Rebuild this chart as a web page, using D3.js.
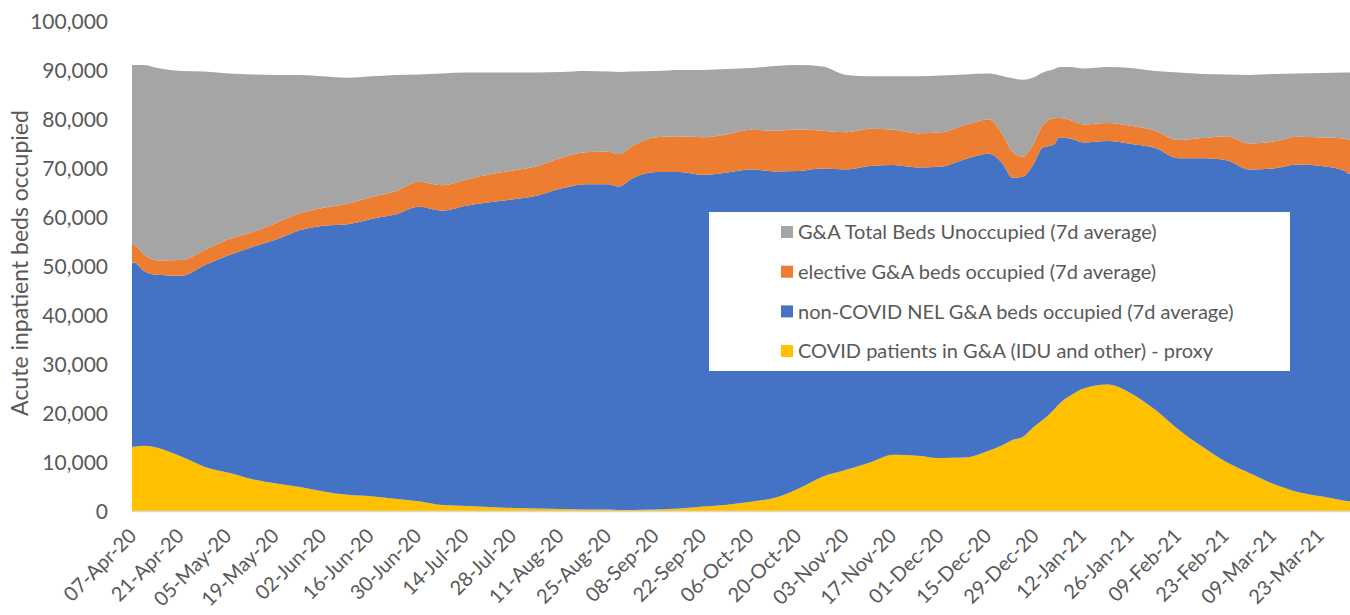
<!DOCTYPE html>
<html>
<head>
<meta charset="utf-8">
<script src="https://cdn.jsdelivr.net/npm/d3@7"></script>
<style>
  body { margin: 0; background: #fff; }
  text { font-family: Lato, "Open Sans", sans-serif; fill: #595959; }
</style>
</head>
<body>
<svg id="chart" width="1350" height="615"></svg>
<script>
// sample dates (7d averages)
const dates = [
    "2020-04-07", "2020-04-10", "2020-04-14", "2020-04-21", "2020-04-28", "2020-05-05", "2020-05-12", "2020-05-19", "2020-05-26", "2020-06-02",
    "2020-06-09", "2020-06-16", "2020-06-23", "2020-06-30", "2020-07-07", "2020-07-14", "2020-07-21", "2020-07-28", "2020-08-04", "2020-08-11",
    "2020-08-18", "2020-08-25", "2020-08-28", "2020-09-01", "2020-09-08", "2020-09-15", "2020-09-22", "2020-09-29", "2020-10-06", "2020-10-13",
    "2020-10-20", "2020-10-27", "2020-11-03", "2020-11-10", "2020-11-17", "2020-11-24", "2020-12-01", "2020-12-08", "2020-12-15", "2020-12-19",
    "2020-12-22", "2020-12-25", "2020-12-28", "2020-12-31", "2021-01-03", "2021-01-05", "2021-01-08", "2021-01-12", "2021-01-19", "2021-01-26",
    "2021-02-02", "2021-02-09", "2021-02-16", "2021-02-23", "2021-03-02", "2021-03-09", "2021-03-16", "2021-03-23", "2021-03-30", "2021-03-31"
];

const covid = [
    13100, 13300, 12900, 11100, 9000, 7800, 6500, 5600, 4900, 4000,
    3300, 3000, 2500, 2000, 1200, 1000, 800, 600, 500, 400,
    300, 300, 200, 200, 300, 500, 900, 1300, 1900, 2700,
    4600, 7000, 8400, 9900, 11500, 11300, 10800, 10900, 12300, 13400,
    14500, 15100, 17000, 18600, 20500, 22000, 23500, 25000, 25800, 24000,
    20700, 16600, 13100, 10000, 7700, 5500, 3900, 3000, 2100, 2000
];

const nonCovid = [
    37600, 35700, 35300, 36900, 41200, 44400, 47400, 49800, 52400, 54200,
    55200, 56600, 58000, 60100, 60100, 61300, 62200, 63000, 63900, 65400,
    66400, 66400, 66000, 67700, 68900, 68700, 67700, 67800, 67800, 66600,
    64800, 62900, 61300, 60500, 59100, 58800, 59500, 60900, 60600, 57600,
    53500, 53100, 53500, 55600, 54200, 54300, 52500, 50200, 49700, 50900,
    53400, 55400, 58900, 61600, 62000, 64400, 66800, 67400, 67300, 66900
];

const elective = [
    3600, 3400, 2900, 3200, 3100, 3300, 3000, 3400, 3500, 3700,
    4200, 4500, 4700, 5100, 5200, 5300, 5700, 5900, 6000, 6300,
    6500, 6600, 6600, 6600, 7100, 7300, 7700, 7800, 8100, 8300,
    8500, 7700, 7600, 7600, 7200, 7000, 7000, 7000, 7000, 6000,
    5300, 4100, 4200, 4600, 5400, 3900, 3800, 3700, 3700, 3700,
    3500, 3700, 4100, 4900, 5300, 5500, 5700, 5800, 6600, 6900
];

const unoccupied = [
    36700, 38600, 39300, 38600, 36400, 33800, 32200, 30200, 28200, 26800,
    25700, 24600, 23800, 21900, 22800, 21900, 20800, 20000, 19100, 17500,
    16600, 16400, 16800, 15200, 13500, 13500, 13700, 13300, 12600, 13200,
    13100, 13100, 11700, 10700, 10900, 11600, 11600, 10300, 9400, 11800,
    15000, 15700, 13700, 10700, 10000, 10400, 10800, 11400, 11400, 11800,
    12200, 13800, 13100, 12600, 14000, 13800, 12900, 13200, 13500, 13700
];

const seriesNames = [
    "COVID patients in G&A (IDU and other) - proxy",
    "non-COVID NEL G&A beds occupied (7d average)",
    "elective G&A beds occupied (7d average)",
    "G&A Total Beds Unoccupied (7d average)"
];
const seriesColors = ["#FFC000", "#4472C4", "#ED7D31", "#A5A5A5"];

const yTicks = [0, 10000, 20000, 30000, 40000, 50000, 60000, 70000, 80000, 90000, 100000];
const labelStep = 14;
const lastDay = 358;

const svg = d3.select("#chart");
const area = { left: 132, right: 1350, top: 21, bottom: 511 };

const parse = d3.timeParse("%Y-%m-%d");
const start = parse(dates[0]);

const rows = dates.map((d, i) => ({
    day: d3.timeDay.count(start, parse(d)),
    s0: covid[i], s1: nonCovid[i], s2: elective[i], s3: unoccupied[i]
}));

const keys = ["s0", "s1", "s2", "s3"];
const stacked = d3.stack().keys(keys)(rows);

const scaleX = d3.scaleLinear()
    .domain([-0.5, lastDay + 0.5])
    .range([area.left, area.right]);

const scaleY = d3.scaleLinear()
    .domain([0, 100000])
    .range([area.bottom, area.top]);

const areaGen = d3.area()
    .x(d => scaleX(d.data.day))
    .y0(d => scaleY(d[0]))
    .y1(d => scaleY(d[1]))
    .curve(d3.curveMonotoneX);

// first and last points stretched to the plot edges (daily columns have width)
const edge = layer => {
    const a = layer[0], b = layer[layer.length - 1];
    const first = Object.assign([a[0], a[1]], { data: { day: -0.5 } });
    const last = Object.assign([b[0], b[1]], { data: { day: lastDay + 0.5 } });
    return [first, ...layer, last];
};

svg.append("g")
    .selectAll("path")
    .data(stacked)
    .enter()
    .append("path")
    .attr("d", d => areaGen(edge(d)))
    .attr("fill", (d, i) => seriesColors[i]);

// y axis labels
svg.append("g")
    .selectAll("text")
    .data(yTicks)
    .enter()
    .append("text")
    .attr("x", 108)
    .attr("y", d => scaleY(d))
    .attr("dy", "0.36em")
    .attr("text-anchor", "end")
    .style("font-size", "21px")
    .text(d => d3.format(",")(d));

// x axis line
svg.append("line")
    .attr("x1", area.left)
    .attr("x2", area.right)
    .attr("y1", area.bottom + 0.5)
    .attr("y2", area.bottom + 0.5)
    .attr("stroke", "#D9D9D9")
    .attr("stroke-width", 1.5);

const fmt = d3.timeFormat("%d-%b-%y");
const labelDays = d3.range(0, lastDay, labelStep);

svg.append("g")
    .selectAll("text")
    .data(labelDays)
    .enter()
    .append("text")
    .attr("text-anchor", "end")
    .attr("transform", d => `translate(${scaleX(d) + 4}, 537) rotate(-45)`)
    .style("font-size", "20px")
    .text(d => fmt(d3.timeDay.offset(start, d)));

// y axis title
svg.append("text")
    .attr("transform", "translate(28, 263) rotate(-90)")
    .attr("text-anchor", "middle")
    .style("font-size", "23px")
    .text("Acute inpatient beds occupied");

// legend
const legend = svg.append("g");
legend.append("rect")
    .attr("x", 709)
    .attr("y", 212)
    .attr("width", 581)
    .attr("height", 159)
    .attr("fill", "#fff");

const legendOrder = [3, 2, 1, 0];
const legendRows = legend.selectAll("g")
    .data(legendOrder)
    .enter()
    .append("g")
    .attr("transform", (d, i) => `translate(781, ${232 + i * 39.7})`);

legendRows.append("rect")
    .attr("x", 0)
    .attr("y", -6)
    .attr("width", 12)
    .attr("height", 12)
    .attr("fill", d => seriesColors[d]);

legendRows.append("text")
    .attr("x", 17)
    .attr("dy", "0.36em")
    .style("font-size", "20px")
    .text(d => seriesNames[d]);
</script>
</body>
</html>
